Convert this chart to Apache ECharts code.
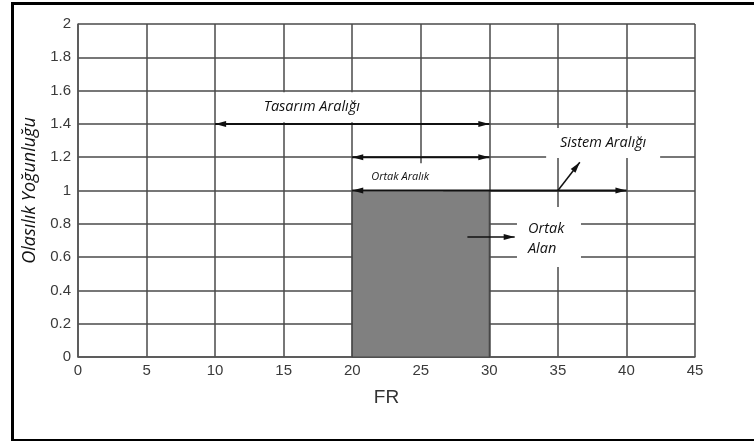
<!DOCTYPE html>
<html>
<head>
<meta charset="utf-8">
<script src="https://cdn.jsdelivr.net/npm/echarts@6/dist/echarts.min.js"></script>
<style>html,body{margin:0;padding:0;background:#fff;}#c{width:754px;height:441px;}</style>
</head>
<body>
<div id="c"></div>
<script>
// ---- data ----
var xTicks = [0, 5, 10, 15, 20, 25, 30, 35, 40, 45];
var yTicks = [0, 0.2, 0.4, 0.6, 0.8, 1, 1.2, 1.4, 1.6, 1.8, 2];
var xName = 'FR';
var yName = 'Olasılık Yoğunluğu';
// shaded common area: [xStart, xEnd, height]
var commonArea = [20, 30, 1];
// ranges: [xStart, xEnd, level]
var designRange = [10, 30, 1.4];
var commonRange = [20, 30, 1.2];
var systemRange = [20, 40, 1.0];
// pointer arrows: [x1, y1, x2, y2]
var systemPointer = [35, 1.0, 36.6, 1.17];
var areaPointer = [28.4, 0.72, 31.85, 0.72];
// annotation labels: [text, x, y]
var labelDesign = ['Tasarım Aralığı', 17.05, 1.5];
var labelSystem = ['Sistem Aralığı', 38.3, 1.285];
var labelCommon = ['Ortak Aralık', 23.5, 1.08];
var labelArea = ['Ortak\nAlan', 34.35, 0.72];

var chart = echarts.init(document.getElementById('c'), null, {renderer: 'canvas'});

function arrowHead(tip, from, len, hw) {
  var dx = tip[0] - from[0], dy = tip[1] - from[1];
  var d = Math.sqrt(dx * dx + dy * dy) || 1;
  var ux = dx / d, uy = dy / d;
  var bx = tip[0] - ux * len, by = tip[1] - uy * len;
  return {
    type: 'polygon',
    shape: {points: [[tip[0], tip[1]], [bx - uy * hw, by + ux * hw], [bx + uy * hw, by - ux * hw]]},
    style: {fill: '#111'}
  };
}

var arrowData = [
  [designRange[0], designRange[2], designRange[1], designRange[2], 1],
  [commonRange[0], commonRange[2], commonRange[1], commonRange[2], 1],
  [systemRange[0], systemRange[2], systemRange[1], systemRange[2], 1],
  [systemPointer[0], systemPointer[1], systemPointer[2], systemPointer[3], 0],
  [areaPointer[0], areaPointer[1], areaPointer[2], areaPointer[3], 0]
];

var labelData = [labelDesign, labelSystem, labelCommon, labelArea];
var labelBoxes = {
  'Tasarım Aralığı': {w: 124, h: 30, fs: 14.5, left: false},
  'Sistem Aralığı': {w: 114, h: 30, fs: 14.5, left: false},
  'Ortak Aralık': {w: 86, h: 28, fs: 11, left: false},
  'Ortak\nAlan': {w: 64, h: 60, fs: 14.5, left: true}
};

var option = {
  backgroundColor: '#fff',
  animation: false,
  grid: {left: 78, right: 59, top: 24, bottom: 84, containLabel: false},
  xAxis: {
    type: 'value', min: xTicks[0], max: xTicks[xTicks.length - 1], interval: 5,
    name: xName, nameLocation: 'middle', nameGap: 31,
    nameTextStyle: {fontFamily: 'Liberation Sans', fontSize: 19, color: '#333'},
    axisLine: {lineStyle: {color: '#555', width: 1.5}},
    axisTick: {show: false},
    axisLabel: {fontFamily: 'Liberation Sans', fontSize: 15, color: '#3a3a3a', margin: 6},
    splitLine: {show: true, lineStyle: {color: '#4a4a4a', width: 1.5}}
  },
  yAxis: {
    type: 'value', min: yTicks[0], max: yTicks[yTicks.length - 1], interval: 0.2,
    name: yName, nameLocation: 'middle', nameGap: 29,
    nameTextStyle: {fontFamily: 'Open Sans', fontStyle: 'italic', fontSize: 18, color: '#111'},
    axisLine: {lineStyle: {color: '#555', width: 1.5}},
    axisTick: {show: false},
    axisLabel: {fontFamily: 'Liberation Sans', fontSize: 15, color: '#3a3a3a', margin: 7,
      formatter: function (v) { return String(Math.round(v * 10) / 10); }},
    splitLine: {show: true, lineStyle: {color: '#4a4a4a', width: 1.5}}
  },
  graphic: [{
    type: 'rect', left: 10, top: 1, z: 100,
    shape: {x: 0, y: 0, width: 760, height: 437},
    style: {fill: 'none', stroke: '#000', lineWidth: 3}
  }],
  series: [
    {
      type: 'custom', z: 2,
      data: [commonArea],
      renderItem: function (params, api) {
        var p1 = api.coord([api.value(0), api.value(2)]);
        var p2 = api.coord([api.value(1), 0]);
        return {
          type: 'rect',
          shape: {x: p1[0], y: p1[1], width: p2[0] - p1[0], height: p2[1] - p1[1]},
          style: {fill: '#808080', stroke: '#444', lineWidth: 1.2}
        };
      }
    },
    {
      type: 'custom', z: 3,
      data: labelData.map(function (l) { return [l[1], l[2], l[0]]; }),
      dimensions: ['x', 'y', {name: 't', type: 'ordinal'}],
      renderItem: function (params, api) {
        var l = labelData[params.dataIndex];
        var b = labelBoxes[l[0]];
        var p = api.coord([l[1], l[2]]);
        return {
          type: 'group',
          children: [
            {type: 'rect', shape: {x: p[0] - b.w / 2, y: p[1] - b.h / 2, width: b.w, height: b.h},
              style: {fill: '#fff'}},
            {type: 'text', x: b.left ? p[0] - b.w / 2 + 11 : p[0], y: p[1] + (b.left ? 2 : 0),
              style: {text: l[0], fontFamily: 'Open Sans', fontStyle: 'italic', fontSize: b.fs,
                fill: '#111', align: b.left ? 'left' : 'center', verticalAlign: 'middle',
                lineHeight: b.fs + 6}}
          ]
        };
      }
    },
    {
      type: 'custom', z: 4,
      data: arrowData,
      renderItem: function (params, api) {
        var a = api.coord([api.value(0), api.value(1)]);
        var b = api.coord([api.value(2), api.value(3)]);
        var both = api.value(4) === 1;
        var kids = [{type: 'line', shape: {x1: a[0], y1: a[1], x2: b[0], y2: b[1]},
          style: {stroke: '#111', lineWidth: both ? 2 : 1.5}}];
        kids.push(arrowHead(b, a, 11, 3));
        if (both) kids.push(arrowHead(a, b, 11, 3));
        return {type: 'group', children: kids};
      }
    }
  ]
};
chart.setOption(option);
</script>
</body>
</html>
